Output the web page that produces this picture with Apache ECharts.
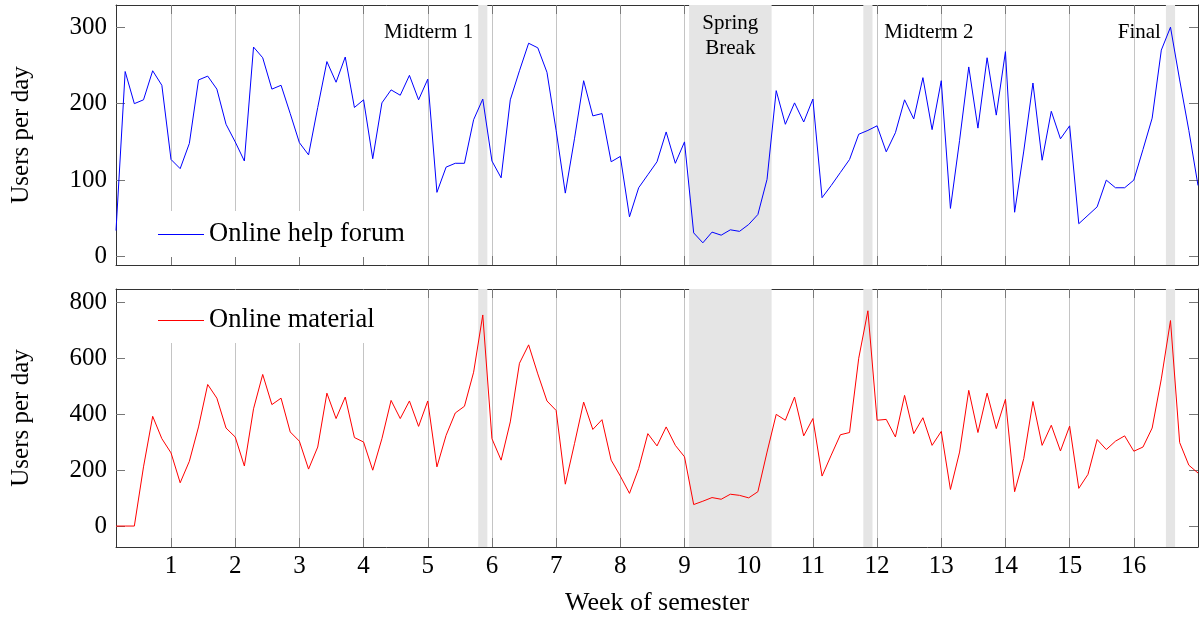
<!DOCTYPE html>
<html>
<head>
<meta charset="utf-8">
<script src="https://cdn.jsdelivr.net/npm/echarts@6/dist/echarts.min.js"></script>
<style>
  html, body { margin: 0; padding: 0; background: #fff; }
  #chart { width: 1199px; height: 621px; }
</style>
</head>
<body>
<div id="chart"></div>
<script>
// daily users, day 1 .. day 119 (x axis is in weeks, 7 days each)
const forumUsers = [
  34, 242, 200, 205, 243, 224, 127,
  115, 148, 231, 236, 219, 173, 150,
  125, 274, 260, 219, 224, 187, 149,
  133, 195, 255, 228, 261, 195, 205,
  128, 201, 218, 211, 237, 205, 232,
  84, 117, 122, 122, 179, 206, 125,
  103, 205, 243, 279, 273, 241, 165,
  83, 154, 230, 184, 187, 124, 131,
  52, 90, 107, 124, 163, 122, 150,
  31, 18, 32, 28, 35, 33, 42,
  55, 101, 217, 173, 201, 176, 206,
  77, 93, 110, 127, 160, 165, 171,
  137, 162, 205, 180, 234, 166, 230,
  63, 152, 248, 168, 260, 185, 268,
  58, 138, 227, 126, 190, 154, 171,
  43, 54, 65, 100, 90, 90, 100,
  140, 181, 270, 300, 231, 165, 93
]
const materialUsers = [
  0, 0, 0, 212, 393, 313, 262,
  155, 232, 355, 507, 458, 351, 319,
  215, 420, 543, 435, 458, 337, 304,
  204, 283, 476, 385, 462, 317, 301,
  200, 313, 450, 385, 448, 357, 448,
  212, 325, 405, 429, 551, 756, 313,
  236, 373, 583, 649, 545, 448, 414,
  150, 295, 444, 346, 381, 236, 179,
  117, 206, 331, 287, 355, 289, 248,
  77, 89, 102, 96, 114, 110, 101,
  123, 265, 400, 379, 462, 323, 385,
  179, 254, 327, 335, 601, 771, 379,
  382, 319, 468, 331, 388, 289, 339,
  131, 265, 486, 335, 476, 349, 454,
  123, 242, 446, 289, 361, 269, 358,
  135, 185, 310, 274, 304, 323, 268,
  283, 351, 527, 736, 299, 218, 190
]
const weekTicks = [1, 2, 3, 4, 5, 6, 7, 8, 9, 10, 11, 12, 13, 14, 15, 16]
const forumTicks = [0, 100, 200, 300]
const materialTicks = [0, 200, 400, 600, 800]
const examDays = [41, 83, 116]
const examNames = ['Midterm 1', 'Midterm 2', 'Final']
const springBreak = [64, 72]

const serif = 'Liberation Serif'
const days = forumUsers.map((v, i) => i + 1)
const weekDays = weekTicks.map(w => w * 7)

let mChart = echarts.init(document.getElementById('chart'))

function xAxis(gridIndex, position, labels) {
  return {
    type: 'value',
    gridIndex: gridIndex,
    position: position,
    min: 1,
    max: 119,
    axisLine: {onZero: false, lineStyle: {color: '#333', width: 1}},
    axisTick: {show: true, inside: true, length: 9, customValues: weekDays, lineStyle: {color: '#777'}},
    axisLabel: {
      show: labels,
      customValues: weekDays,
      formatter: v => String(v / 7),
      color: '#000',
      fontFamily: serif,
      fontSize: 25,
      margin: 7
    },
    splitLine: {show: position === 'bottom', lineStyle: {color: '#c4c4c4', width: 1}},
    name: labels ? 'Week of semester' : '',
    nameLocation: 'middle',
    nameGap: 43,
    nameTextStyle: {color: '#000', fontFamily: serif, fontSize: 26}
  }
}

function yAxis(gridIndex, position, lo, hi, ticks) {
  const left = position === 'left'
  return {
    type: 'value',
    gridIndex: gridIndex,
    position: position,
    min: lo,
    max: hi,
    axisLine: {show: true, onZero: false, lineStyle: {color: '#333', width: 1}},
    axisTick: {show: true, inside: true, length: 9, customValues: ticks, lineStyle: {color: '#777'}},
    axisLabel: {
      show: left,
      customValues: ticks,
      color: '#000',
      fontFamily: serif,
      fontSize: 25,
      margin: 9
    },
    splitLine: {show: false},
    name: left ? 'Users per day' : '',
    nameLocation: 'middle',
    nameGap: 82,
    nameTextStyle: {color: '#000', fontFamily: serif, fontSize: 25}
  }
}

// grey bars (exam days and spring break), with the top-panel captions
function getAreas(withLabels) {
  const labelStyle = {color: '#000', fontFamily: serif, fontSize: 21, verticalAlign: 'middle'}
  const positions = [
    {position: [-5, 27], align: 'right'},
    {position: [21, 27], align: 'left'},
    {position: [-5, 27], align: 'right'}
  ]
  let areas = []
  examDays.forEach((d, i) => {
    areas.push([
      {xAxis: d - 0.5, name: examNames[i], label: Object.assign({show: withLabels}, labelStyle, positions[i])},
      {xAxis: d + 0.5}
    ])
  })
  areas.push([
    {
      xAxis: springBreak[0] - 0.5,
      name: 'Spring\nBreak',
      label: Object.assign({show: withLabels}, labelStyle, {
        position: 'insideTop', distance: 6, align: 'center', verticalAlign: 'top', lineHeight: 25
      })
    },
    {xAxis: springBreak[1] + 0.5}
  ])
  return {
    silent: true,
    itemStyle: {color: '#e5e5e5', opacity: 1},
    label: {formatter: '{b}'},
    emphasis: {disabled: true},
    data: areas
  }
}

function legend(name, top, pad) {
  return {
    data: [name],
    left: 128,
    top: top,
    orient: 'horizontal',
    icon: 'rect',
    itemWidth: 46,
    itemHeight: 1,
    selectedMode: false,
    backgroundColor: '#fff',
    padding: pad,
    textStyle: {color: '#000', fontFamily: serif, fontSize: 26.5, lineHeight: 26}
  }
}

const options = {
  animation: false,
  backgroundColor: '#fff',
  textStyle: {fontFamily: serif},
  grid: [
    {left: 116, right: 1, top: 5, height: 260},
    {left: 116, right: 1, top: 289, height: 258}
  ],
  legend: [
    legend('Online help forum', 211, [10, 12, 9, 30]),
    legend('Online material', 290, [17, 12, 9, 30])
  ],
  xAxis: [
    xAxis(0, 'bottom', false),
    xAxis(0, 'top', false),
    xAxis(1, 'bottom', true),
    xAxis(1, 'top', false)
  ],
  yAxis: [
    yAxis(0, 'left', -11, 329, forumTicks),
    yAxis(0, 'right', -11, 329, forumTicks),
    yAxis(1, 'left', -75, 849, materialTicks),
    yAxis(1, 'right', -75, 849, materialTicks)
  ],
  series: [
    {
      name: 'Online help forum',
      type: 'line',
      xAxisIndex: 0,
      yAxisIndex: 0,
      symbol: 'none',
      lineStyle: {color: '#0000ff', width: 1},
      itemStyle: {color: '#0000ff'},
      data: days.map((d, i) => [d, forumUsers[i]]),
      markArea: getAreas(true)
    },
    {
      name: 'Online material',
      type: 'line',
      xAxisIndex: 2,
      yAxisIndex: 2,
      symbol: 'none',
      lineStyle: {color: '#ff0000', width: 1},
      itemStyle: {color: '#ff0000'},
      data: days.map((d, i) => [d, materialUsers[i]]),
      markArea: getAreas(false)
    }
  ]
}

mChart.setOption(options)
</script>
</body>
</html>
